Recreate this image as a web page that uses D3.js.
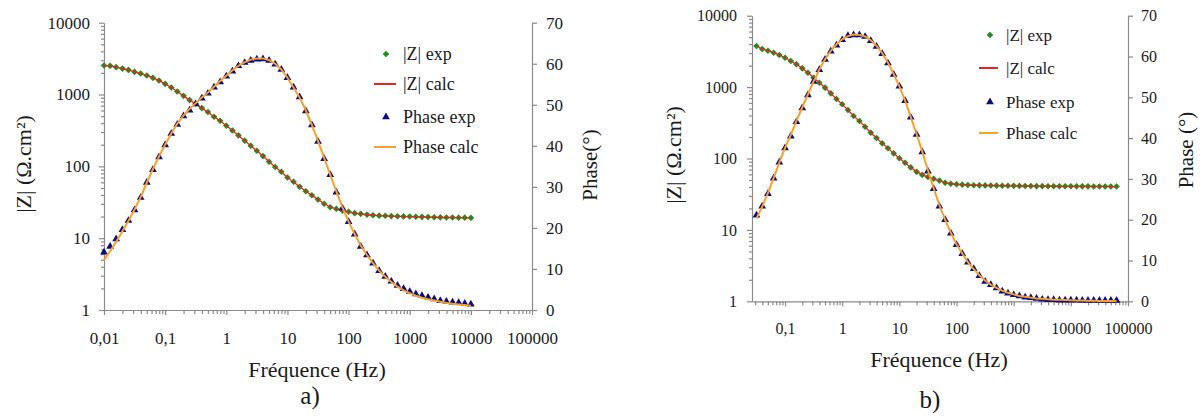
<!DOCTYPE html>
<html><head><meta charset="utf-8">
<script src="https://cdn.jsdelivr.net/npm/d3@7"></script>
<style>
html,body{margin:0;padding:0;background:#fff;}
svg{display:block;}
svg text{font-family:"Liberation Serif","Tinos","Times New Roman","DejaVu Serif","Noto Serif",serif !important;fill:#1a1a1a;}
</style></head>
<body>
<svg id="chart" width="1200" height="419"></svg>
<script>
// ---------- DATA ----------
const freqA = [0.01,0.0126,0.0158,0.02,0.0251,0.0316,0.0398,0.0501,0.0631,0.0794,
  0.1,0.126,0.158,0.2,0.251,0.316,0.398,0.501,0.631,0.794,
  1,1.26,1.58,2,2.51,3.16,3.98,5.01,6.31,7.94,
  10,12.6,15.8,20,25.1,31.6,39.8,50.1,63.1,79.4,
  100,126,158,200,251,316,398,501,631,794,
  1000,1259,1585,1995,2512,3162,3981,5012,6310,7943,10000];
const zExpA = [2530,2506,2405,2297,2203,2067,1958,1837,1706,1565,
  1409,1251,1101,959,836,743,647,570,490,431,
  368,316,270,228,194,165,139,116,98,84,
  70,61,52,45,39.6,34.5,30.1,27.0,25.6,24.2,
  23.3,22.3,21.8,21.3,20.9,20.6,20.5,20.3,20.2,20.1,
  20.0,19.9,19.8,19.7,19.6,19.5,19.4,19.4,19.3,19.3,19.2];
const zCalcA = [2520,2500,2410,2300,2200,2070,1955,1835,1705,1562,
  1408,1250,1100,958,836,741,647,568,490,430,
  368,315,269,228,194,165,139,116,98,84,
  70,60.5,52,45,39.4,34.6,30.3,27.2,25.4,24.1,
  23.1,22.3,21.7,21.2,20.9,20.6,20.4,20.2,20.1,20.0,
  19.9,19.8,19.7,19.6,19.5,19.4,19.4,19.3,19.3,19.2,19.2];
const phExpA = [14.2,15.6,17.4,19.7,21.9,24.5,27.5,31.2,34.3,37.4,
  40.3,43.1,45.3,47.4,48.8,50.3,51.7,52.9,54.4,55.7,
  57.1,58.3,59.6,60.4,60.9,61.2,61.3,60.9,60.0,58.7,
  56.7,54.4,52.0,48.6,45.2,41.2,37.0,33.1,28.8,24.9,
  21.6,18.6,15.6,13.5,11.5,9.7,8.3,7.1,6.1,5.3,
  4.6,4.0,3.6,3.2,2.8,2.4,2.2,2.0,1.9,1.7,1.5];
const phCalcA = [12.2,14.3,16.6,19.2,21.7,24.5,27.5,31.0,34.3,37.4,
  40.3,43.0,45.4,47.4,49.0,50.4,51.8,53.0,54.4,55.8,
  57.1,58.4,59.5,60.4,61.0,61.3,61.3,60.9,60.0,58.6,
  56.6,54.2,51.8,48.6,45.1,41.2,37.1,33.0,28.9,25.0,
  21.6,18.5,15.7,13.4,11.4,9.6,8.1,6.8,5.7,4.8,
  4.1,3.5,3.0,2.6,2.3,2.0,1.7,1.5,1.35,1.2,1.05];

const freqB = [0.0316,0.0398,0.0501,0.0631,0.0794,
  0.1,0.126,0.158,0.2,0.251,0.316,0.398,0.501,0.631,0.794,
  1,1.26,1.58,2,2.51,3.16,3.98,5.01,6.31,7.94,
  10,12.6,15.8,20,25.1,31.6,39.8,50.1,63.1,79.4,
  100,126,158,200,251,316,398,501,631,794,
  1000,1259,1585,1995,2512,3162,3981,5012,6310,7943,
  10000,12589,15849,19953,25119,31623,39811,50119,63096];
const zExpB = [3765,3420,3236,3034,2818,2582,2323,2086,1832,1591,
  1355,1153,982,818,681,574,478,394,335,279,
  230,194,163,139,118,101,87,75,65,59,
  55,52,49,45.8,44.4,43.5,43.0,42.6,
  42.3,42.1,42.0,41.8,41.7,41.6,41.5,41.4,41.3,41.2,41.1,41.0,41.0,
  40.9,40.9,40.8,40.8,40.8,40.7,40.7,40.7,40.6,40.6,40.6,40.5,40.5];
const zCalcB = [3760,3430,3230,3030,2815,2580,2325,2085,1830,1590,
  1355,1152,982,818,682,573,478,395,334,279,
  230,194,163,139,118,101,87,75,65.5,59.5,
  55,51.5,48.8,46.0,44.5,43.6,43.0,42.6,
  42.3,42.1,41.9,41.8,41.7,41.6,41.5,41.4,41.3,41.2,41.1,41.0,41.0,
  40.9,40.9,40.8,40.8,40.8,40.7,40.7,40.7,40.6,40.6,40.6,40.5,40.5];
const phExpB = [21.2,23.4,26.5,30.3,34.2,37.7,40.6,44.1,47.5,50.7,
  54.0,56.9,59.4,61.4,62.9,64.2,65.2,65.4,65.4,65.0,
  64.0,62.6,60.8,58.5,55.7,52.8,49.3,45.2,41.0,36.7,
  32.0,27.7,23.4,20.1,16.8,14.0,11.8,9.7,8.1,6.4,
  5.0,4.2,3.4,2.6,2.1,1.7,1.4,1.1,1.0,0.8,
  0.6,0.5,0.5,0.4,0.4,0.4,0.4,0.3,0.3,0.3,0.3,0.3,0.3,0.3];
const phCalcB = [20.3,23.2,26.5,30.2,34.0,37.6,40.8,44.2,47.5,50.7,
  53.9,56.8,59.3,61.4,63.0,64.2,65.0,65.4,65.3,64.9,
  64.0,62.6,60.8,58.5,55.7,52.7,49.2,45.2,41.0,36.7,
  32.1,27.7,23.6,20.0,16.8,14.0,11.7,9.6,7.9,6.4,
  5.1,4.1,3.3,2.6,2.1,1.7,1.3,1.1,0.9,0.7,
  0.6,0.5,0.4,0.35,0.3,0.25,0.2,0.2,0.15,0.15,0.1,0.1,0.1,0.1];

const xMajorA = [0.01,0.1,1,10,100,1000,10000,100000];
const xMajorB = [0.1,1,10,100,1000,10000,100000];
const xLabelMap = {0.01:"0,01",0.1:"0,1",1:"1",10:"10",100:"100",1000:"1000",10000:"10000",100000:"100000"};
const zMajor = [1,10,100,1000,10000];
const phTicks = [0,10,20,30,40,50,60,70];
const legendLabels = ["|Z| exp","|Z| calc","Phase exp","Phase calc"];
const xTitle = "Fréquence (Hz)";
const zTitle = "|Z| (Ω.cm²)";
const phTitleA = "Phase(°)";
const phTitleB = "Phase (°)";
const panelLabels = ["a)","b)"];

// ---------- DRAW ----------
const SERIF = "'Liberation Serif','Tinos','Times New Roman','DejaVu Serif','Noto Serif',serif";
const svg = d3.select("#chart");
const AX = "#8a8a8a";
const GREEN = "#1e8f1e", RED = "#e8221c", NAVY = "#0c0c80", ORANGE = "#f7a12a";
const diamondPath = r => `M0,${-r}L${r},0L0,${r}L${-r},0Z`;

function minorTicks(lo, hi){
  const out=[];
  for(let e=Math.floor(Math.log10(lo)); e<Math.ceil(Math.log10(hi)); e++){
    for(let m=2;m<=9;m++){const v=m*Math.pow(10,e); if(v>=lo*0.999 && v<=hi*1.001) out.push(v);}
  }
  return out;
}

function panel(p){
  const g = svg.append("g").attr("font-family",SERIF);
  const x = d3.scaleLog().domain(p.xDom).range([p.left,p.right]);
  const yZ = d3.scaleLog().domain([1,10000]).range([p.bottom,p.top]);
  const yP = d3.scaleLinear().domain([0,70]).range([p.bottom,p.top]);

  const styleAxis = sel => { sel.attr("font-family",SERIF).attr("font-size",p.tickFs);
    sel.selectAll("path,line").attr("stroke",AX).attr("stroke-width",1.2);
    sel.selectAll("text").attr("fill","#1a1a1a"); };

  g.append("g").attr("transform",`translate(0,${p.bottom})`)
    .call(d3.axisBottom(x).tickValues(minorTicks(p.xDom[0],p.xDom[1])).tickSize(4).tickFormat(""))
    .call(styleAxis).select(".domain").remove();
  g.append("g").attr("transform",`translate(0,${p.bottom})`)
    .call(d3.axisBottom(x).tickValues(p.xMajor).tickSize(5).tickSizeOuter(0).tickPadding(p.xPad).tickFormat(d=>xLabelMap[d]))
    .call(styleAxis);
  g.append("g").attr("transform",`translate(${p.left},0)`)
    .call(d3.axisLeft(yZ).tickValues(minorTicks(1,10000)).tickSize(3).tickFormat(""))
    .call(styleAxis).select(".domain").remove();
  g.append("g").attr("transform",`translate(${p.left},0)`)
    .call(d3.axisLeft(yZ).tickValues(zMajor).tickSize(5).tickSizeOuter(0).tickPadding(p.lPad).tickFormat(d3.format("d")))
    .call(styleAxis);
  g.append("g").attr("transform",`translate(${p.right},0)`)
    .call(d3.axisRight(yP).tickValues(phTicks).tickSize(5).tickSizeOuter(0).tickPadding(p.rPad).tickFormat(d3.format("d")))
    .call(styleAxis);

  const lineZ = d3.line().x((d,i)=>x(p.freq[i])).y(d=>yZ(d));
  const lineP = d3.line().x((d,i)=>x(p.freq[i])).y(d=>yP(d));
  g.selectAll(".dz").data(p.zExp).join("path")
    .attr("d",diamondPath(3.3)).attr("fill",GREEN)
    .attr("transform",(d,i)=>`translate(${x(p.freq[i])},${yZ(d)})`);
  g.append("path").datum(p.zCalc).attr("d",lineZ).attr("fill","none").attr("stroke",RED).attr("stroke-width",1.3);
  const tri = d3.symbol(d3.symbolTriangle, 26);
  g.selectAll(".tp").data(p.phExp).join("path")
    .attr("d",tri()).attr("fill",NAVY)
    .attr("transform",(d,i)=>`translate(${x(p.freq[i])},${yP(d)+0.5})`);
  g.append("path").datum(p.phCalc).attr("d",lineP).attr("fill","none").attr("stroke",ORANGE).attr("stroke-width",2);

  const L = p.leg;
  legendLabels.forEach((lab,i)=>{
    const yy = L.ys[i];
    if(i===0) g.append("path").attr("d",diamondPath(3.3)).attr("fill",GREEN).attr("transform",`translate(${L.mx},${yy})`);
    if(i===1) g.append("line").attr("x1",L.lx1).attr("x2",L.lx2).attr("y1",yy).attr("y2",yy).attr("stroke",RED).attr("stroke-width",2);
    if(i===2) g.append("path").attr("d",tri()).attr("fill",NAVY).attr("transform",`translate(${L.mx},${yy})`);
    if(i===3) g.append("line").attr("x1",L.lx1).attr("x2",L.lx2).attr("y1",yy).attr("y2",yy).attr("stroke",ORANGE).attr("stroke-width",2);
    g.append("text").attr("x",L.tx).attr("y",yy).attr("dy","0.34em").attr("font-size",L.fs).text(lab);
  });

  g.append("text").attr("x",p.xTitleX).attr("y",p.xTitleY).attr("text-anchor","middle").attr("font-size",22).text(xTitle);
  g.append("text").attr("transform",`translate(${p.zTitleX},${p.zTitleY}) rotate(-90)`).attr("text-anchor","middle").attr("dy","0.35em").attr("font-size",22).text(zTitle);
  g.append("text").attr("transform",`translate(${p.pTitleX},${p.pTitleY}) rotate(-90)`).attr("text-anchor","middle").attr("dy","0.35em").attr("font-size",21).text(p.pTitle);
  g.append("text").attr("x",p.labX).attr("y",p.labY).attr("text-anchor","middle").attr("font-size",25).text(p.lab);
}

panel({xDom:[0.01,100000], left:104, right:532, top:22.7, bottom:310,
  freq:freqA, zExp:zExpA, zCalc:zCalcA, phExp:phExpA, phCalc:phCalcA,
  xMajor:xMajorA, tickFs:17, xPad:17, lPad:9, rPad:9,
  leg:{mx:386, tx:403, lx1:374, lx2:396, ys:[54,84,117,147], fs:18},
  xTitleX:317, xTitleY:377, zTitleX:23, zTitleY:164, pTitleX:590, pTitleY:165, pTitle:phTitleA,
  labX:310, labY:404, lab:panelLabels[0]});

panel({xDom:[0.0264,100000], left:752, right:1128, top:15.7, bottom:301.3,
  freq:freqB, zExp:zExpB, zCalc:zCalcB, phExp:phExpB, phCalc:phCalcB,
  xMajor:xMajorB, tickFs:16, xPad:16, lPad:10, rPad:8,
  leg:{mx:990, tx:1006, lx1:979, lx2:998, ys:[35,68,102,133], fs:17},
  xTitleX:939, xTitleY:367, zTitleX:673, zTitleY:155, pTitleX:1186, pTitleY:150, pTitle:phTitleB,
  labX:930, labY:408, lab:panelLabels[1]});
</script>
</body></html>
